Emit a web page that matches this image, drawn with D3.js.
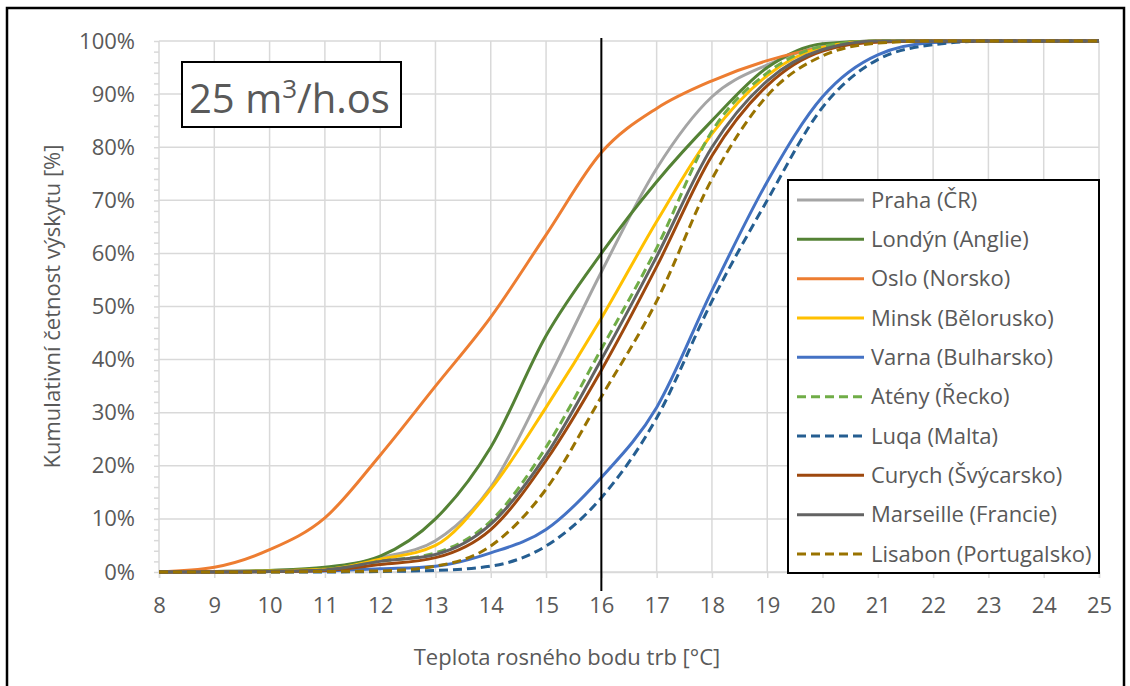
<!DOCTYPE html>
<meta charset="utf-8">
<head>
    <title>Kumulativní četnost</title>
    <script src="https://d3js.org/d3.v7.min.js"></script>
</head>
<style type="text/css">
body {
    margin: 0;
    background: #FFFFFF;
}
svg text {
    font-family: "Open Sans", "Noto Sans", sans-serif;
    fill: #595959;
}
</style>
<body>
    <svg id="chart" width="1130" height="686"></svg>

    <script type="text/javascript">
        // teploty rosného bodu (osa x)
        var temps = [8, 9, 10, 11, 12, 13, 14, 15, 16, 17, 18, 19, 20, 21, 22, 23, 24, 25];
        var yTicks = [0, 10, 20, 30, 40, 50, 60, 70, 80, 90, 100];

        // kumulativni cetnost [%] pro kazde mesto
        var praha     = [0, 0.1, 0.2, 0.6, 2.7, 5.9, 16, 35.5, 56.5, 76, 89.5, 95.5, 99, 100, 100, 100, 100, 100];
        var londyn    = [0, 0.1, 0.3, 0.9, 3.0, 10, 23.5, 44.5, 60, 73.5, 85, 95, 99.5, 100, 100, 100, 100, 100];
        var oslo      = [0, 0.9, 4.2, 10.2, 22, 35, 48, 63.5, 79, 87.3, 92.5, 96.3, 98.8, 99.8, 100, 100, 100, 100];
        var minsk     = [0, 0, 0.2, 0.5, 2.4, 5, 15.6, 31, 47.8, 66, 82.5, 93.5, 98.8, 100, 100, 100, 100, 100];
        var varna     = [0, 0, 0.1, 0.2, 0.6, 1.1, 3.6, 8, 17.8, 31, 53, 73.5, 89.5, 97.4, 99.7, 100, 100, 100];
        var ateny     = [0, 0, 0.1, 0.4, 2, 3.6, 9.6, 23.5, 42, 61, 83, 94, 99, 100, 100, 100, 100, 100];
        var luqa      = [0, 0, 0, 0, 0.1, 0.3, 1.1, 4.9, 14, 29, 51, 70, 87.5, 96.5, 99.3, 100, 100, 100];
        var curych    = [0, 0, 0.1, 0.3, 1.4, 2.7, 8, 21, 38, 57.5, 78.4, 91.6, 98.1, 99.8, 100, 100, 100, 100];
        var marseille = [0, 0, 0.1, 0.4, 2, 3.3, 9, 22, 40, 59.4, 80, 92.5, 98.4, 100, 100, 100, 100, 100];
        var lisabon   = [0, 0, 0, 0.1, 0.2, 1.1, 4.9, 15.6, 33, 51, 74, 89.7, 97.2, 99.6, 100, 100, 100, 100];

        var names   = ["Praha (ČR)", "Londýn (Anglie)", "Oslo (Norsko)", "Minsk (Bělorusko)", "Varna (Bulharsko)",
                       "Atény (Řecko)", "Luqa (Malta)", "Curych (Švýcarsko)", "Marseille (Francie)", "Lisabon (Portugalsko)"];
        var values  = [praha, londyn, oslo, minsk, varna, ateny, luqa, curych, marseille, lisabon];
        var colors  = ["#A5A5A5", "#548235", "#ED7D31", "#FFC000", "#4472C4", "#70AD47", "#255E91", "#9E480E", "#636363", "#997300"];
        var dashed  = [false, false, false, false, false, true, true, false, false, true];

        var svg = d3.select("#chart");
        var plotLeft = 159, plotRight = 1099, plotTop = 41, plotBottom = 572;

        var x = d3.scaleLinear().domain([8, 25]).range([plotLeft, plotRight]);
        var y = d3.scaleLinear().domain([0, 100]).range([plotBottom, plotTop]);

        // ramecek grafu
        svg.append("rect")
            .attr("x", 7).attr("y", 8)
            .attr("width", 1117).attr("height", 700)
            .attr("fill", "#FFFFFF")
            .attr("stroke", "#000000")
            .attr("stroke-width", 2.5);

        // mrizka
        var grid = svg.append("g");
        grid.selectAll(".vgrid").data(temps).enter().append("line")
            .attr("x1", function(d) { return x(d); }).attr("x2", function(d) { return x(d); })
            .attr("y1", plotTop).attr("y2", plotBottom)
            .attr("stroke", "#D9D9D9").attr("stroke-width", 1.5);
        grid.selectAll(".hgrid").data(yTicks).enter().append("line")
            .attr("x1", plotLeft).attr("x2", plotRight)
            .attr("y1", function(d) { return y(d); }).attr("y2", function(d) { return y(d); })
            .attr("stroke", "#D9D9D9").attr("stroke-width", 1.5);

        // osa y
        var yAxis = d3.axisLeft(y)
            .tickValues(yTicks)
            .tickSize(0)
            .tickPadding(24)
            .tickFormat(function(d) { return d + "%"; });
        var gy = svg.append("g").attr("transform", "translate(" + plotLeft + ",0)").call(yAxis);
        gy.select(".domain").remove();
        gy.selectAll("text").style("font-size", "22px").style("fill", "#595959").style("font-family", "'Open Sans'");

        // vedlejsi znacky osy y po 2 %
        var minor = svg.append("g").attr("transform", "translate(" + plotLeft + ",0)")
            .call(d3.axisLeft(y).ticks(50).tickSize(5).tickFormat(""));
        minor.select(".domain").remove();
        minor.selectAll("line").attr("stroke", "#D9D9D9").attr("stroke-width", 1.5);

        // osa x
        var xAxis = d3.axisBottom(x)
            .tickValues(temps)
            .tickSize(6)
            .tickPadding(19)
            .tickFormat(d3.format("d"));
        var gx = svg.append("g").attr("transform", "translate(0," + plotBottom + ")").call(xAxis);
        gx.select(".domain").attr("stroke", "#D9D9D9").attr("stroke-width", 1.5);
        gx.selectAll("line").attr("stroke", "#D9D9D9").attr("stroke-width", 1.5);
        gx.selectAll("text").style("font-size", "22px").style("fill", "#595959").style("font-family", "'Open Sans'");

        // krivky
        var line = d3.line()
            .x(function(d) { return x(d[0]); })
            .y(function(d) { return y(d[1]); })
            .curve(d3.curveMonotoneX);

        for (var i = 0; i < values.length; i++) {
            var pts = temps.map(function(t, j) { return [t, values[i][j]]; });
            svg.append("path")
                .attr("d", line(pts))
                .attr("fill", "none")
                .attr("stroke", colors[i])
                .attr("stroke-width", 3)
                .attr("stroke-dasharray", dashed[i] ? "9,5" : null);
        }

        // svisla cara 16 °C
        svg.append("line")
            .attr("x1", x(16)).attr("x2", x(16))
            .attr("y1", plotTop - 3).attr("y2", plotBottom + 19)
            .attr("stroke", "#000000").attr("stroke-width", 2);

        // popisky os
        svg.append("text")
            .attr("x", 567).attr("y", 665)
            .attr("text-anchor", "middle")
            .style("font-size", "22px")
            .text("Teplota rosného bodu trb [°C]");
        svg.append("text")
            .attr("transform", "translate(60," + ((plotTop + plotBottom) / 2) + ") rotate(-90)")
            .attr("text-anchor", "middle")
            .style("font-size", "22px")
            .text("Kumulativní četnost výskytu [%]");

        // stitek prutoku
        svg.append("rect")
            .attr("x", 182).attr("y", 62)
            .attr("width", 219).attr("height", 65)
            .attr("fill", "#FFFFFF")
            .attr("stroke", "#000000").attr("stroke-width", 2);
        var lab = svg.append("text")
            .attr("x", 189).attr("y", 113)
            .style("font-size", "40px");
        lab.append("tspan").text("25 m");
        lab.append("tspan").attr("dy", -15).style("font-size", "26px").text("3");
        lab.append("tspan").attr("dy", 15).text("/h.os");

        // legenda
        var legend = svg.append("g");
        legend.append("rect")
            .attr("x", 788).attr("y", 180)
            .attr("width", 311).attr("height", 393)
            .attr("fill", "#FFFFFF")
            .attr("stroke", "#000000").attr("stroke-width", 2);
        var ly = d3.scalePoint().domain(names).range([200, 554]);
        names.forEach(function(n, i) {
            legend.append("line")
                .attr("x1", 797).attr("x2", 864)
                .attr("y1", ly(n)).attr("y2", ly(n))
                .attr("stroke", colors[i])
                .attr("stroke-width", 3)
                .attr("stroke-dasharray", dashed[i] ? "9,5" : null);
            legend.append("text")
                .attr("x", 871).attr("y", ly(n))
                .attr("dy", "0.35em")
                .style("font-size", "22px")
                .text(n);
        });
    </script>
</body>
